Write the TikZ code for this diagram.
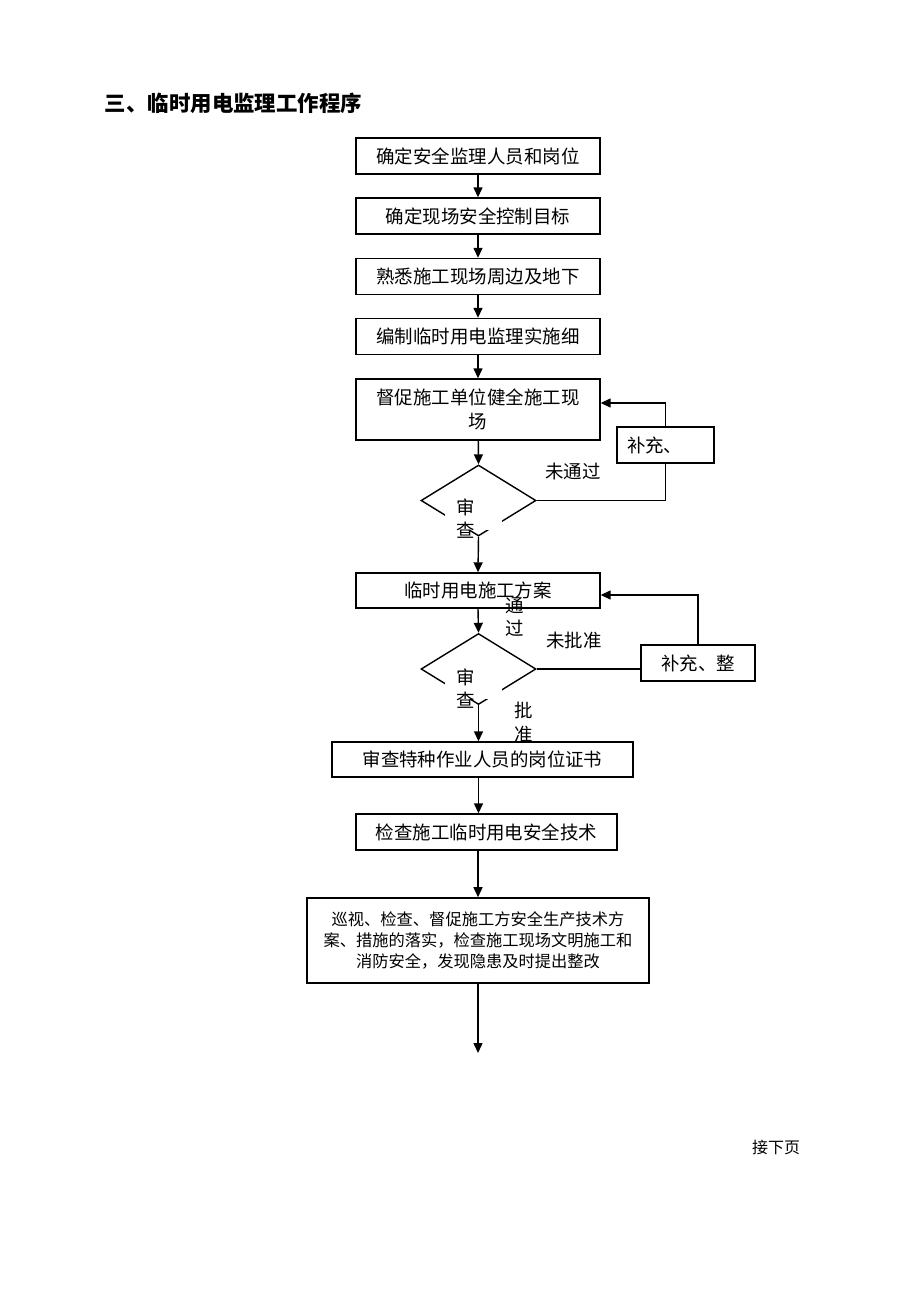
\documentclass[tikz,border=0pt]{standalone}
\usepackage{fontspec}
\setmainfont{Noto Sans CJK SC}
\usepackage{tikz}
\usetikzlibrary{positioning,arrows.meta,shapes.geometric}

\begin{document}
\begin{tikzpicture}[
    x=0.02cm, y=-0.02cm,
    box/.style={rectangle, draw, line width=0.8pt, minimum width=4.88cm, minimum height=0.72cm, align=center, inner sep=0pt, font=\fontsize{10.5}{13.5}\selectfont},
    check/.style={diamond, draw, line width=0.8pt, minimum width=2.3cm, minimum height=1.42cm, inner sep=0pt},
    mask/.style={rectangle, fill=white, minimum width=1.14cm, minimum height=0.34cm, inner sep=0pt},
    side/.style={rectangle, draw, line width=0.8pt, minimum height=0.72cm, font=\fontsize{10.5}{13.5}\selectfont},
    lbl/.style={inner sep=0pt, font=\fontsize{10.5}{13.5}\selectfont},
    arrow/.style={-{Triangle[length=0.2cm,width=0.18cm]}, line width=0.8pt},
    line/.style={line width=0.8pt}
]
    \useasboundingbox (0,0) rectangle (920,1302);

    \node[lbl, font=\fontsize{12.2}{14}\selectfont\bfseries] (title) at (233.5,103.5) {三、临时用电监理工作程序};

    \node[box] (staff) at (478,156) {确定安全监理人员和岗位};
    \node[box] (target) at (478,216) {确定现场安全控制目标};
    \node[box] (site) at (478,276.5) {熟悉施工现场周边及地下};
    \node[box] (rules) at (478,336.5) {编制临时用电监理实施细};
    \node[box, minimum height=1.22cm] (urge) at (478,409.5) {督促施工单位健全施工现\\场};

    % first review
    \node[check] (review1) at (478.5,500.5) {};
    \node[mask] (mask1) at (473.5,521.5) {};
    \node[lbl] (rev1a) at (465.5,507.5) {审};
    \node[lbl] (rev1b) at (466,530.5) {查};
    \node[side, minimum width=1.94cm, text width=1.54cm, align=left] (supp1) at (665.5,445) {补充、};
    \node[lbl] (fail1) at (573,471) {未通过};

    \node[box, minimum height=0.70cm] (plan) at (478,590.5) {临时用电施工方案};
    \node[lbl] (pass1a) at (514.5,605.5) {通};
    \node[lbl] (pass1b) at (514.5,628) {过};

    % second review
    \node[check] (review2) at (478.5,669) {};
    \node[mask] (mask2) at (473.5,690) {};
    \node[lbl] (rev2a) at (465.5,677.5) {审};
    \node[lbl] (rev2b) at (466,700.5) {查};
    \node[side, minimum width=2.28cm] (supp2) at (698,663) {补充、整};
    \node[lbl] (fail2) at (574,640) {未批准};
    \node[lbl] (ok2a) at (523.5,710.5) {批};
    \node[lbl] (ok2b) at (523.5,734.5) {准};

    \node[box, minimum width=6.02cm, minimum height=0.70cm] (cert) at (482.5,759.5) {审查特种作业人员的岗位证书};
    \node[box, minimum width=5.22cm] (tech) at (486.5,832) {检查施工临时用电安全技术};
    \node[box, minimum width=6.84cm, minimum height=1.70cm, line width=0.9pt, font=\fontsize{9.25}{12.2}\selectfont] (patrol) at (478,940.5) {巡视、检查、督促施工方安全生产技术方\\案、措施的落实，检查施工现场文明施工和\\消防安全，发现隐患及时提出整改};
    \coordinate (next) at (478,1053);

    \node[lbl, font=\fontsize{9.1}{11}\selectfont] (cont) at (776,1147) {接下页};

    \draw[arrow] (staff) -- (target);
    \draw[arrow] (target) -- (site);
    \draw[arrow] (site) -- (rules);
    \draw[arrow] (rules) -- (urge);
    \draw[arrow] (urge) -- (review1.north);
    \draw[line] (review1.east) -| (supp1.south);
    \draw[arrow] (supp1.north) |- ([yshift=0.13cm]urge.east);
    \draw[arrow] (review1.south) -- (plan.north);
    \draw[arrow] (plan.south) -- (review2.north);
    \draw[line] (review2.east) -- (review2.east -| supp2.west);
    \draw[arrow] (supp2.north) |- ([yshift=-0.09cm]plan.east);
    \draw[arrow] (review2.south) -- (review2.south |- cert.north);
    \draw[arrow] (review2.south |- cert.south) -- (review2.south |- tech.north);
    \draw[arrow] (patrol.north |- tech.south) -- (patrol.north);
    \draw[arrow] (patrol.south) -- (next);
\end{tikzpicture}
\end{document}
